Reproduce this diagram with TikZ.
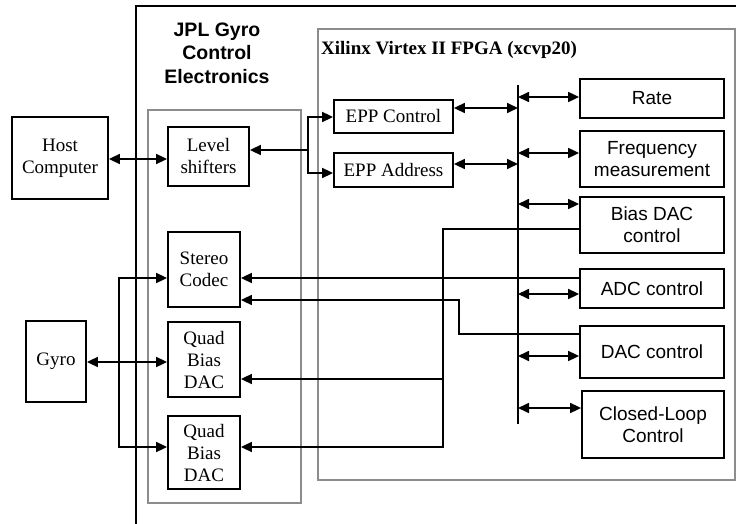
\documentclass[tikz,border=0pt]{standalone}
\usepackage{fontspec}
\setmainfont{Liberation Serif}
\setsansfont{Liberation Sans}
\usepackage{tikz}
\usetikzlibrary{arrows.meta, positioning, calc}
\definecolor{ink}{HTML}{000000}
\definecolor{groupgray}{HTML}{8C8C8C}
\tikzset{
  % Blocks
  block/.style={
    rectangle, draw=ink, line width=1.8pt, inner sep=0pt,
    align=center, font=\fontsize{19}{22}\selectfont
  },
  sfblock/.style={block, font=\fontsize{19}{22}\selectfont\sffamily},
  boxsize/.style 2 args={minimum width=#1, minimum height=#2},
  % Frames
  group/.style={draw=groupgray, line width=1.8pt},
  outerframe/.style={draw=ink, line width=2pt},
  % Arrow styles
  wire/.style={line width=1.7pt, color=ink},
  flow/.style={wire, -{Triangle[length=11pt,width=10pt]}},
  biflow/.style={wire, {Triangle[length=11pt,width=10pt]}-{Triangle[length=11pt,width=10pt]}},
  % Labels
  heading/.style={font=\fontsize{19.5}{23.5}\selectfont\sffamily\bfseries, align=center, inner sep=0pt},
  fpgalabel/.style={font=\fontsize{19}{22}\selectfont\bfseries, anchor=base west, inner sep=0pt},
}

\begin{document}
\begin{tikzpicture}[x=1pt, y=-1pt]
  \useasboundingbox (0,0) rectangle (736,524);

  % Frames
  \draw[outerframe] (136,525) |- (737,6);
  \draw[group] (148,110) rectangle (301,503);
  \draw[group] (318,29) rectangle (735,480);
  \node[heading] (jpl) at (217,53) {JPL Gyro\\Control\\Electronics};
  \node[fpgalabel] (fpga) at (321,55) {Xilinx Virtex II FPGA (xcvp20)};

  % Outside world
  \node[block, boxsize={96}{82}] (host) at (60,158) {Host\\Computer};
  \node[block, boxsize={60}{81}] (gyro) at (56,361.5) {Gyro};

  % Interface board
  \node[block, boxsize={81}{59}] (level) at (208.5,156.5) {Level\\shifters};
  \node[block, boxsize={72}{75}] (codec) at (204,269.5) {Stereo\\Codec};
  \node[block, boxsize={72}{75}] (quad1) at (204,359.5) {Quad\\Bias\\DAC};
  \node[block, boxsize={72}{73}] (quad2) at (204,452.5) {Quad\\Bias\\DAC};

  % FPGA blocks
  \node[block, boxsize={119}{33}] (eppctl) at (393.5,116.5) {EPP Control};
  \node[block, boxsize={119}{34}] (eppaddr) at (393.5,170) {EPP Address};
  \node[sfblock, boxsize={144}{39}] (rate) at (652,98.5) {Rate};
  \node[sfblock, boxsize={144}{56}] (freq) at (652,159) {Frequency\\measurement};
  \node[sfblock, boxsize={144}{56}] (biasdac) at (652,225) {Bias DAC\\control};
  \node[sfblock, boxsize={144}{39}] (adc) at (652,288.5) {ADC control};
  \node[sfblock, boxsize={144}{52}] (dac) at (652,352) {DAC control};
  \node[sfblock, boxsize={142}{67}] (loop) at (653,424.5) {Closed-Loop\\Control};

  % Host side
  \draw[biflow] (host.east |- 0,159) -- (level.west |- 0,159);
  \coordinate (split) at (308,150);
  \draw[flow] (split) -- (level.east |- split);
  \draw[flow] (split) |- (eppctl.west |- 0,117);
  \draw[flow] (split) |- (eppaddr.west |- 0,173);

  % Internal bus
  \coordinate (bustop) at (518,85);
  \coordinate (busbot) at (518,424);
  \draw[wire] (bustop) -- (busbot);
  \draw[biflow] (eppctl.east |- 0,108) -- (bustop |- 0,108);
  \draw[biflow] (eppaddr.east |- 0,164) -- (bustop |- 0,164);
  \foreach \blk/\y in {rate/97, freq/153, biasdac/204, adc/294, dac/356, loop/408}
    \draw[biflow] (bustop |- 0,\y) -- (\blk.west |- 0,\y);

  % Converter lines
  \coordinate (biasx) at (443,229);
  \draw[flow] (biasdac.west |- biasx) -| (biasx |- 0,447) -- (quad2.east |- 0,447);
  \draw[flow] (biasx |- 0,379) -- (quad1.east |- 0,379);
  \draw[flow] (adc.west |- 0,278) -- (codec.east |- 0,278);
  \draw[flow] (dac.west |- 0,334) -| (459,300) -- (codec.east |- 0,300);

  % Gyro side
  \coordinate (gyrox) at (119,362);
  \draw[biflow] (gyro.east |- gyrox) -- (quad1.west |- gyrox);
  \draw[flow] (gyrox) |- (codec.west |- 0,278);
  \draw[flow] (gyrox) |- (quad2.west |- 0,447);

\end{tikzpicture}
\end{document}
